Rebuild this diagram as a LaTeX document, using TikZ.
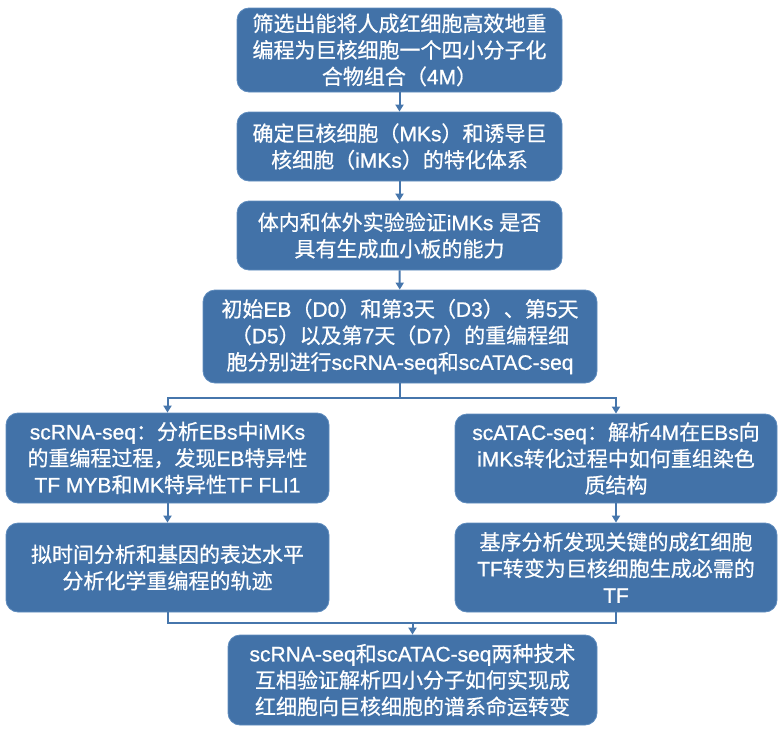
\documentclass[tikz,border=0pt]{standalone}
\usepackage{fontspec}
\setmainfont{Noto Sans CJK SC}[FakeBold=0.7]
\newfontfamily\cjkf{Noto Sans CJK SC}[FakeBold=0.7]
\newfontfamily\latinf{Liberation Sans}[FakeBold=0.9]
\newcount\mycc
\mycc="3000
\loop \XeTeXcharclass\mycc=7 \advance\mycc by 1 \ifnum\mycc<"A000 \repeat
\mycc="FF00
\loop \XeTeXcharclass\mycc=7 \advance\mycc by 1 \ifnum\mycc<"FFF0 \repeat
\XeTeXinterchartokenstate=1
\XeTeXinterchartoks 7 0 = {\latinf}
\XeTeXinterchartoks 4095 0 = {\latinf}
\XeTeXinterchartoks 0 7 = {\cjkf}
\XeTeXinterchartoks 4095 7 = {\cjkf}
\usetikzlibrary{arrows.meta}
\definecolor{boxfill}{RGB}{66,114,168}
\definecolor{boxedge}{RGB}{95,140,190}
\definecolor{linecol}{RGB}{70,118,172}
\tikzset{
  box/.style={draw=boxedge, line width=0.8pt, fill=boxfill, rounded corners=12pt,
    text=white, align=center, inner sep=2pt,
    font=\fontsize{21pt}{26.5pt}\selectfont},
  conn/.style={draw=linecol, line width=2pt},
  arr/.style={conn, -{Triangle[width=8pt,length=7pt]}}
}
\begin{document}
\begin{tikzpicture}[x=1pt,y=-1pt]
\useasboundingbox (0,0) rectangle (782,731);
\node[box, minimum width=325pt, minimum height=84pt] (b1) at (399.5,50)
  {筛选出能将人成红细胞高效地重\\编程为巨核细胞一个四小分子化\\合物组合（4M）};
\node[box, minimum width=325pt, minimum height=69pt] (b2) at (399.5,146.5)
  {确定巨核细胞（MKs）和诱导巨\\核细胞（iMKs）的特化体系};
\node[box, minimum width=325pt, minimum height=69pt] (b3) at (399.5,235.5)
  {体内和体外实验验证iMKs 是否\\具有生成血小板的能力};
\node[box, minimum width=394pt, minimum height=93pt] (b4) at (400,336.5)
  {初始EB（D0）和第3天（D3）、第5天\\（D5）以及第7天（D7）的重编程细\\胞分别进行scRNA-seq和scATAC-seq};
\node[box, minimum width=323pt, minimum height=90pt] (b5) at (167.5,458)
  {scRNA-seq：分析EBs中iMKs\\的重编程过程，发现EB特异性\\TF MYB和MK特异性TF FLI1};
\node[box, minimum width=323pt, minimum height=89pt] (b6) at (167.5,567.5)
  {拟时间分析和基因的表达水平\\分析化学重编程的轨迹};
\node[box, minimum width=322pt, minimum height=89pt] (b7) at (616,458.5)
  {scATAC-seq：解析4M在EBs向\\iMKs转化过程中如何重组染色\\质结构};
\node[box, minimum width=322pt, minimum height=89pt] (b8) at (616,567.5)
  {基序分析发现关键的成红细胞\\TF转变为巨核细胞生成必需的\\TF};
\node[box, minimum width=369pt, minimum height=90pt] (b9) at (412.5,680)
  {scRNA-seq和scATAC-seq两种技术\\互相验证解析四小分子如何实现成\\红细胞向巨核细胞的谱系命运转变};
\draw[arr] (b1) -- (b2);
\draw[arr] (b2) -- (b3);
\draw[arr] (b3) -- (b4);
\coordinate (j1) at (400,398);
\draw[conn] (b4.south) -- (j1);
\draw[arr] (j1) -| (b5.north);
\draw[arr] (j1) -| (b7.north);
\draw[arr] (b5) -- (b6);
\draw[arr] (b7) -- (b8);
\coordinate (j2) at (412.5,623);
\draw[conn] (b6.south) -- (b6.south |- j2) -- (b8.south |- j2) -- (b8.south);
\draw[arr] (j2) -- (b9.north);
\end{tikzpicture}
\end{document}
